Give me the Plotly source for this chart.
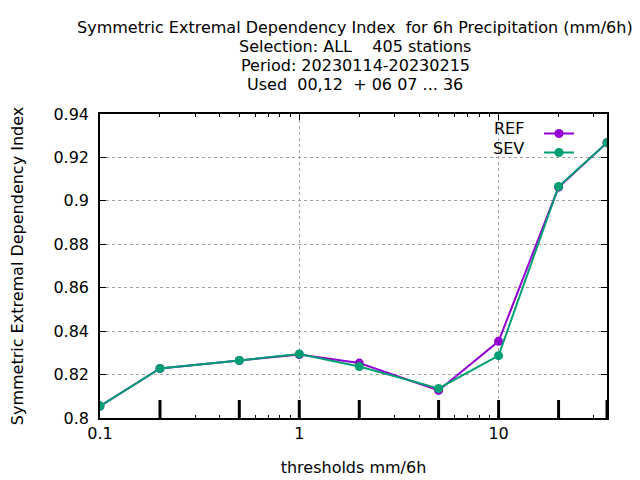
import numpy as np
import plotly.graph_objects as go

# thresholds (mm/6h) and SEDI scores
thresholds = [0.1, 0.2, 0.5, 1, 2, 5, 10, 20, 35]
ref_vals = [0.8055, 0.8228, 0.8265, 0.8292, 0.8253, 0.8127, 0.8353, 0.9063, 0.9268]
sev_vals = [0.8055, 0.8228, 0.8265, 0.8295, 0.8237, 0.8136, 0.8287, 0.9066, 0.9268]
series_names = ["REF", "SEV"]
series_colors = ["#9400d3", "#009e73"]

y_ticks = [0.8, 0.82, 0.84, 0.86, 0.88, 0.9, 0.92, 0.94]
x_ticks = [0.1, 1, 10]
x_ticklabels = ["0.1", "1", "10"]

title_lines = [
    "Symmetric Extremal Dependency Index  for 6h Precipitation (mm/6h)",
    "Selection: ALL    405 stations",
    "Period: 20230114-20230215",
    "Used  00,12  + 06 07 ... 36",
]

font = "DejaVu Sans"
fs = 16

# page body has an 8px margin, so shift everything by that
off = 8
px_l, px_r, px_t, px_b = 100, 607, 114, 418   # plot box in screen pixels


def px_x(X):
    return (X - px_l) / (px_r - px_l)


def px_y(Y):
    return (px_b - Y) / (px_b - px_t)


fig = go.Figure()

# tall threshold marks above the x axis
fig.add_trace(go.Scatter(
    x=thresholds[1:], y=[0.8041] * (len(thresholds) - 1),
    mode="markers",
    marker=dict(symbol="line-ns", size=13, line=dict(width=3, color="black")),
    showlegend=False, hoverinfo="skip",
))

for name, vals, col in zip(series_names, [ref_vals, sev_vals], series_colors):
    fig.add_trace(go.Scatter(
        x=thresholds, y=vals, mode="lines+markers", name=" ",
        line=dict(color=col, width=2),
        marker=dict(symbol="circle", size=9, color=col),
    ))

# legend labels on the left of the samples, gnuplot style
for i, name in enumerate(series_names):
    fig.add_annotation(
        x=px_x(526), y=px_y(129 + 19 * i), xref="x domain", yref="y domain",
        text=name, showarrow=False, font=dict(family=font, size=fs, color="black"),
        xanchor="right", yanchor="middle",
    )

# title lines, one annotation each (gnuplot line spacing)
for i, line in enumerate(title_lines):
    fig.add_annotation(
        x=px_x(355), y=px_y(28 + 18.7 * i), xref="x domain", yref="y domain",
        text=line, showarrow=False, font=dict(family=font, size=fs, color="black"),
        xanchor="center", yanchor="middle",
    )

minor_vals = [m * 10.0 ** e for e in (-1, 0, 1) for m in range(2, 10) if m * 10.0 ** e < 35]

fig.update_layout(
    width=640, height=480,
    margin=dict(l=px_l - off, r=640 - (px_r - off), t=px_t - off, b=480 - (px_b - off)),
    plot_bgcolor="white", paper_bgcolor="white",
    font=dict(family=font, size=fs, color="black"),
    legend=dict(
        x=px_x(539), y=px_y(119), xanchor="left", yanchor="top",
        bgcolor="rgba(0,0,0,0)", font=dict(size=12), tracegroupgap=0,
        itemwidth=30,
    ),
)

fig.update_xaxes(
    type="log", range=[np.log10(0.1), np.log10(35)],
    tickmode="array", tickvals=x_ticks, ticktext=x_ticklabels,
    ticks="inside", ticklen=6, tickwidth=1, tickcolor="black",
    showline=True, linecolor="black", linewidth=1.5, mirror="allticks",
    showgrid=True, gridcolor="#a0a0a0", griddash="dot", gridwidth=1,
    zeroline=False,
    minor=dict(tickmode="array", tickvals=minor_vals, ticks="inside",
               ticklen=3, tickcolor="black", showgrid=False),
    title=dict(text="thresholds mm/6h", font=dict(size=fs), standoff=20),
    tickfont=dict(size=fs), automargin=False,
)
fig.update_yaxes(
    range=[0.8, 0.94], tickmode="array", tickvals=y_ticks,
    ticktext=[f"{v:g}" for v in y_ticks],
    ticks="inside", ticklen=6, tickwidth=1, tickcolor="black",
    showline=True, linecolor="black", linewidth=1.5, mirror="allticks",
    showgrid=True, gridcolor="#a0a0a0", griddash="dot", gridwidth=1,
    zeroline=False,
    title=dict(text="Symmetric Extremal Dependency Index", font=dict(size=fs), standoff=31),
    tickfont=dict(size=fs), ticklabelstandoff=6, automargin=False,
)

fig.write_html("out.html")
